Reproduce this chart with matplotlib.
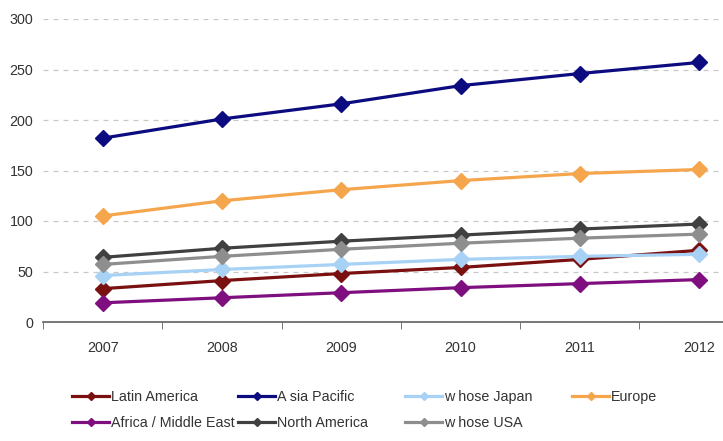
import matplotlib
matplotlib.use("Agg")
import matplotlib.pyplot as plt
import numpy as np

plt.rcParams['font.family'] = ['Liberation Sans', 'DejaVu Sans']

years = ['2007', '2008', '2009', '2010', '2011', '2012']

latin_america = [33, 41, 48, 54, 62, 71]
asia_pacific = [182, 201, 216, 234, 246, 257]
whose_japan = [46, 52, 57, 62, 65, 67]
europe = [105, 120, 131, 140, 147, 151]
africa_me = [19, 24, 29, 34, 38, 42]
north_america = [64, 73, 80, 86, 92, 97]
whose_usa = [57, 65, 72, 78, 83, 87]

series = [
    ('Latin America', latin_america, '#7a1010'),
    ('A sia Pacific', asia_pacific, '#0c0c80'),
    ('w hose Japan', whose_japan, '#a8d2f5'),
    ('Europe', europe, '#f5a64c'),
    ('Africa / Middle East', africa_me, '#7f0f7f'),
    ('North America', north_america, '#404040'),
    ('w hose USA', whose_usa, '#8e8e8e'),
]

W, H = 723, 441
fig = plt.figure(figsize=(W / 100, H / 100), dpi=100)
ax = fig.add_axes([43 / W, (H - 322) / H, 1 - 43 / W, (322 - 19) / H])

x = np.arange(len(years))
lines = []
for name, vals, col in series:
    ln, = ax.plot(x, vals, color=col, lw=2.3, marker='D', ms=8, label=name)
    lines.append(ln)

ax.set_xlim(-0.5, 5.2)
ax.set_ylim(0, 300)
ax.set_yticks(range(0, 301, 50))
ax.yaxis.grid(True, ls=(0, (4, 4)), color='#c8c8c8', lw=0.9)
ax.set_axisbelow(True)

ax.set_xticks(x)
ax.set_xticklabels(years)
ax.set_xticks(np.arange(-0.5, 5.5, 1), minor=True)
ax.tick_params(axis='x', which='major', length=0, pad=14, labelsize=10.3, colors='#333333')
ax.tick_params(axis='x', which='minor', length=5, direction='out', color='#606060')
ax.tick_params(axis='y', length=0, pad=7, labelsize=10.3, colors='#333333')

for s in ['top', 'right', 'left']:
    ax.spines[s].set_visible(False)
ax.spines['bottom'].set_color('#606060')
ax.spines['bottom'].set_linewidth(1.2)

# legend: 4 columns, 2 rows, placed entry by entry
col_x = [72, 238, 405, 572]
row_y = [397, 423]
for i, ln in enumerate(lines):
    r, c = divmod(i, 4)
    leg = fig.legend([ln], [ln.get_label()], loc='center left',
                     bbox_to_anchor=(col_x[c] / W, 1 - row_y[r] / H),
                     frameon=False, fontsize=10.3, markerscale=0.55,
                     handlelength=2.6, handletextpad=0.1,
                     borderpad=0, borderaxespad=0)
    for t in leg.get_texts():
        t.set_color('#333333')

fig.savefig('out.png', dpi=100)
